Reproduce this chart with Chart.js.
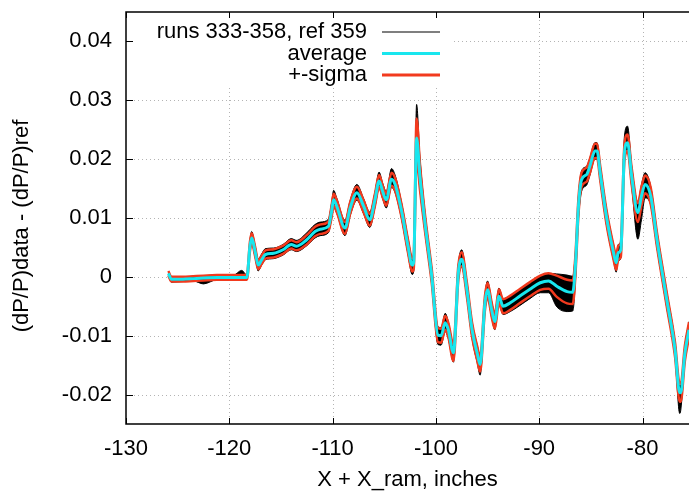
<!DOCTYPE html>
<html>
<head>
<meta charset="utf-8">
<script src="https://cdn.jsdelivr.net/npm/chart.js@4.4.0/dist/chart.umd.min.js"></script>
<style>
  html, body { margin: 0; padding: 0; background: #fff; }
</style>
</head>
<body>
<canvas id="line-chart" width="689" height="491"></canvas>
<script>
// positions along the beam line (X + X_ram, inches)
let xValues = [-125.9, -125.6, -124.5, -123.5, -122.5, -121.2, -119.6, -118.8, -118.3,
  -118.0, -117.83, -117.5, -117.2, -116.87, -116.5, -115.7, -114.8, -114.0, -113.5,
  -112.5, -111.7, -111.2, -110.4, -110.1, -109.9, -109.6, -108.8, -108.3, -107.65,
  -107.0, -106.4, -105.9, -105.5, -105.15, -104.8, -104.3, -103.95, -103.3, -102.7,
  -102.3, -102.15, -101.87, -101.55, -101.06, -100.4, -99.8, -99.5, -99.1, -98.8,
  -98.3, -97.83, -97.5, -97.0, -96.5, -96.0, -95.72, -95.25, -95.0, -94.6, -94.3,
  -93.9, -93.5, -92.8, -91.9, -90.9, -89.9, -89.1, -88.3, -87.3, -86.75, -86.5,
  -86.2, -85.9, -85.4, -85.1, -84.6, -84.4, -84.1, -83.5, -82.8, -82.55, -82.35,
  -82.1, -81.75, -81.45, -81.05, -80.45, -80.1, -79.75, -79.2, -78.6, -77.65,
  -76.85, -76.4, -76.3, -75.9, -75.5];

// average of the runs
let avgValues = [0.0006, -0.0004, -0.0004, -0.0003, -0.0002, -0.0001, -0.0001, -0.0001, -0.0001,
  0.0052, 0.0066, 0.0043, 0.0020, 0.0029, 0.0038, 0.0040, 0.0046, 0.0055, 0.0052,
  0.0063, 0.0077, 0.0081, 0.0086, 0.0111, 0.0131, 0.0120, 0.0083, 0.0117, 0.0143,
  0.0120, 0.0097, 0.0131, 0.0163, 0.0145, 0.0131, 0.0166, 0.0157, 0.0110, 0.0052,
  0.0020, 0.0025, 0.0236, 0.0171, 0.0092, 0.0001, -0.0099, -0.0100, -0.0078, -0.0090,
  -0.0129, 0.0007, 0.0030, -0.0022, -0.0090, -0.0130, -0.0149, -0.0044, -0.0022, -0.0056, -0.0076,
  -0.0033, -0.0050, -0.0044, -0.0033, -0.0021, -0.0010, -0.0007, -0.0016, -0.0025, -0.0026, 0.0018,
  0.0120, 0.0165, 0.0174, 0.0188, 0.0214, 0.0214, 0.0177, 0.0103, 0.0041, 0.0024, 0.0041,
  0.0046, 0.0211, 0.0228, 0.0171, 0.0109, 0.0137, 0.0157, 0.0137, 0.0063, -0.0039,
  -0.0124, -0.0197, -0.0197, -0.0130, -0.0090];

// sigma of the runs around the average
let sigmaValues = [0.0004, 0.0004, 0.0004, 0.0004, 0.0004, 0.0004, 0.0004, 0.0004, 0.0004,
  0.0008, 0.0008, 0.0008, 0.0007, 0.0007, 0.0007, 0.0007, 0.0007, 0.0007, 0.0007,
  0.0008, 0.0008, 0.0008, 0.0008, 0.0010, 0.0010, 0.0010, 0.0010, 0.0010, 0.0010,
  0.0010, 0.0010, 0.0010, 0.0010, 0.0010, 0.0010, 0.0011, 0.0011, 0.0011, 0.0011,
  0.0011, 0.0012, 0.0033, 0.0022, 0.0014, 0.0012, 0.0012, 0.0012, 0.0012, 0.0012,
  0.0014, 0.0012, 0.0012, 0.0012, 0.0012, 0.0012, 0.0012, 0.0012, 0.0012, 0.0012, 0.0012,
  0.0012, 0.0012, 0.0012, 0.0012, 0.0012, 0.0012, 0.0013, 0.0018, 0.0020, 0.0020, 0.0017,
  0.0014, 0.0012, 0.0012, 0.0012, 0.0012, 0.0012, 0.0012, 0.0012, 0.0012, 0.0012, 0.0012,
  0.0012, 0.0014, 0.0014, 0.0014, 0.0016, 0.0016, 0.0015, 0.0014, 0.0012, 0.0012,
  0.0012, 0.0015, 0.0015, 0.0013, 0.0013];

// how far the individual runs reach above / below the average
let runsAbove = [0.0004, 0.0004, 0.0004, 0.0004, 0.0004, 0.0004, 0.0004, 0.0012, 0.0004,
  0.0010, 0.0011, 0.0010, 0.0010, 0.0010, 0.0010, 0.0009, 0.0009, 0.0010, 0.0010,
  0.0012, 0.0012, 0.0012, 0.0012, 0.0014, 0.0016, 0.0014, 0.0013, 0.0013, 0.0014,
  0.0013, 0.0013, 0.0013, 0.0015, 0.0014, 0.0014, 0.0018, 0.0016, 0.0014, 0.0014,
  0.0014, 0.0016, 0.0057, 0.0033, 0.0018, 0.0014, 0.0014, 0.0014, 0.0016, 0.0014,
  0.0014, 0.0014, 0.0016, 0.0014, 0.0014, 0.0014, 0.0014, 0.0015, 0.0015, 0.0014, 0.0014,
  0.0014, 0.0013, 0.0012, 0.0012, 0.0012, 0.0012, 0.0013, 0.0021, 0.0028, 0.0027, 0.0024,
  0.0018, 0.0015, 0.0014, 0.0014, 0.0014, 0.0014, 0.0014, 0.0014, 0.0014, 0.0014, 0.0014,
  0.0014, 0.0028, 0.0028, 0.0018, 0.0018, 0.0020, 0.0020, 0.0016, 0.0014, 0.0014,
  0.0014, 0.0016, 0.0016, 0.0014, 0.0014];
let runsBelow = [0.0004, 0.0005, 0.0004, 0.0004, 0.0010, 0.0004, 0.0004, 0.0004, 0.0004,
  0.0010, 0.0010, 0.0010, 0.0010, 0.0009, 0.0009, 0.0009, 0.0009, 0.0009, 0.0009,
  0.0010, 0.0011, 0.0011, 0.0011, 0.0012, 0.0013, 0.0012, 0.0013, 0.0013, 0.0013,
  0.0013, 0.0013, 0.0013, 0.0013, 0.0013, 0.0014, 0.0014, 0.0014, 0.0014, 0.0014,
  0.0016, 0.0016, 0.0028, 0.0023, 0.0016, 0.0014, 0.0016, 0.0016, 0.0015, 0.0015,
  0.0016, 0.0014, 0.0014, 0.0014, 0.0015, 0.0016, 0.0018, 0.0014, 0.0014, 0.0014, 0.0014,
  0.0014, 0.0014, 0.0015, 0.0016, 0.0016, 0.0017, 0.0020, 0.0035, 0.0034, 0.0032, 0.0028,
  0.0022, 0.0020, 0.0018, 0.0016, 0.0014, 0.0014, 0.0014, 0.0014, 0.0014, 0.0016, 0.0014,
  0.0014, 0.0016, 0.0016, 0.0018, 0.0045, 0.0040, 0.0023, 0.0016, 0.0014, 0.0014,
  0.0014, 0.0035, 0.0030, 0.0014, 0.0014];

let xTicks = [-130, -120, -110, -100, -90, -80];
let yTicks = [-0.02, -0.01, 0, 0.01, 0.02, 0.03, 0.04];

let legendTexts = ['runs 333-358, ref 359', 'average', '+-sigma'];
let yTitle = '(dP/P)data - (dP/P)ref';

let FONT = 'Liberation Sans, Arial, Helvetica, sans-serif';

function pts(fn) {
  let out = [];
  for (let i = 0; i < xValues.length; i++) {
    out.push({ x: xValues[i], y: fn(i) });
  }
  return out;
}

// gnuplot like frame: dotted grid, inward ticks, opaque key box
const gnuFrame = {
  id: 'gnuFrame',
  beforeDraw(chart) {
    const c = chart.ctx;
    c.save();
    c.fillStyle = '#fff';
    c.fillRect(0, 0, chart.width, chart.height);
    c.restore();
  },
  beforeDatasetsDraw(chart) {
    const c = chart.ctx, a = chart.chartArea;
    const xs = chart.scales.x, ys = chart.scales.y;
    c.save();
    c.strokeStyle = '#b4b4b4';
    c.lineWidth = 1;
    c.setLineDash([1, 3]);
    xTicks.forEach(v => {
      if (v === xs.min) return;
      const px = Math.round(xs.getPixelForValue(v)) + 0.5;
      c.beginPath(); c.moveTo(px, a.top); c.lineTo(px, a.bottom); c.stroke();
    });
    yTicks.forEach(v => {
      const py = Math.round(ys.getPixelForValue(v)) + 0.5;
      c.beginPath(); c.moveTo(a.left, py); c.lineTo(a.right, py); c.stroke();
    });
    c.setLineDash([]);
    // key box hides the grid behind it
    c.fillStyle = '#fff';
    c.fillRect(a.left + 1, a.top + 1, 326, 73);
    c.restore();
  },
  afterDatasetsDraw(chart) {
    const c = chart.ctx, a = chart.chartArea;
    const xs = chart.scales.x, ys = chart.scales.y;
    c.save();
    c.strokeStyle = '#000';
    c.lineWidth = 1.5;
    c.beginPath();
    c.moveTo(a.right + 2, a.top);
    c.lineTo(a.left, a.top);
    c.lineTo(a.left, a.bottom);
    c.lineTo(a.right + 2, a.bottom);
    c.stroke();
    c.lineWidth = 1;
    xTicks.forEach(v => {
      const px = Math.round(xs.getPixelForValue(v)) + 0.5;
      c.beginPath();
      c.moveTo(px, a.bottom); c.lineTo(px, a.bottom - 6);
      c.moveTo(px, a.top); c.lineTo(px, a.top + 6);
      c.stroke();
    });
    yTicks.forEach(v => {
      const py = Math.round(ys.getPixelForValue(v)) + 0.5;
      c.beginPath(); c.moveTo(a.left, py); c.lineTo(a.left + 7, py); c.stroke();
    });

    // key
    const colors = ['#000', '#18e6ee', '#f23a1e'];
    const widths = [1.2, 3, 3];
    const rows = [20, 41.5, 63];
    c.font = '22px ' + FONT;
    c.textAlign = 'right';
    c.textBaseline = 'middle';
    c.fillStyle = '#000';
    for (let i = 0; i < legendTexts.length; i++) {
      const y = a.top + rows[i];
      c.fillText(legendTexts[i], a.left + 241, y);
      c.strokeStyle = colors[i];
      c.lineWidth = widths[i];
      c.beginPath(); c.moveTo(a.left + 256, y); c.lineTo(a.left + 314, y); c.stroke();
    }

    // y axis title, centred a bit below the plot middle like gnuplot put it
    c.translate(22, (a.top + a.bottom) / 2 + 8);
    c.rotate(-Math.PI / 2);
    c.textAlign = 'center';
    c.fillText(yTitle, 0, 0);
    c.restore();
  }
};

let my_datasets = [
  {
    label: 'runs low',
    data: pts(i => avgValues[i] - runsBelow[i]),
    borderColor: '#000', borderWidth: 1, backgroundColor: '#000',
    pointRadius: 0, fill: false, order: 3
  },
  {
    label: 'runs high',
    data: pts(i => avgValues[i] + runsAbove[i]),
    borderColor: '#000', borderWidth: 1, backgroundColor: '#000',
    pointRadius: 0, fill: '-1', order: 3
  },
  {
    label: 'average',
    data: pts(i => avgValues[i]),
    borderColor: '#18e6ee', borderWidth: 3,
    pointRadius: 0, fill: false, order: 1
  },
  {
    label: 'sigma high',
    data: pts(i => avgValues[i] + sigmaValues[i]),
    borderColor: '#f23a1e', borderWidth: 2.5,
    pointRadius: 0, fill: false, order: 2
  },
  {
    label: 'sigma low',
    data: pts(i => avgValues[i] - sigmaValues[i]),
    borderColor: '#f23a1e', borderWidth: 2.5,
    pointRadius: 0, fill: false, order: 2
  }
];

let myChart = new Chart(document.getElementById('line-chart').getContext('2d'), {
  type: 'line',
  data: { datasets: my_datasets },
  plugins: [gnuFrame],
  options: {
    responsive: false,
    animation: false,
    layout: { padding: { left: 0, right: 0, top: 12, bottom: 0 } },
    // smooth curves without overshoot
    elements: { line: { cubicInterpolationMode: 'monotone', borderJoinStyle: 'round' } },
    plugins: {
      legend: { display: false },
      tooltip: { enabled: false },
      filler: { propagate: false }
    },
    scales: {
      x: {
        type: 'linear',
        min: -130,
        max: -75.5,
        afterBuildTicks: s => { s.ticks = xTicks.map(v => ({ value: v })); },
        afterFit: s => { s.height = 67; s.paddingLeft = 0; s.paddingRight = 0; },
        grid: { display: false, drawTicks: false },
        border: { display: false },
        ticks: {
          autoSkip: false, maxRotation: 0, padding: 12, color: '#000',
          font: { family: FONT, size: 22 },
          callback: v => String(v)
        },
        title: {
          display: true, text: 'X + X_ram, inches', color: '#000',
          font: { family: FONT, size: 22, lineHeight: 1 }, padding: 0
        }
      },
      y: {
        min: -0.025,
        max: 0.045,
        afterBuildTicks: s => { s.ticks = yTicks.map(v => ({ value: v })); },
        // fixed axis box, no extra room for the end labels
        afterFit: s => { s.width = 126; s.paddingTop = 0; s.paddingBottom = 0; },
        grid: { display: false, drawTicks: false },
        border: { display: false },
        ticks: {
          autoSkip: false, padding: 14, color: '#000',
          font: { family: FONT, size: 22 },
          callback: v => (Math.abs(v) < 1e-9 ? '0' : v.toFixed(2))
        }
      }
    }
  }
});
</script>
</body>
</html>
